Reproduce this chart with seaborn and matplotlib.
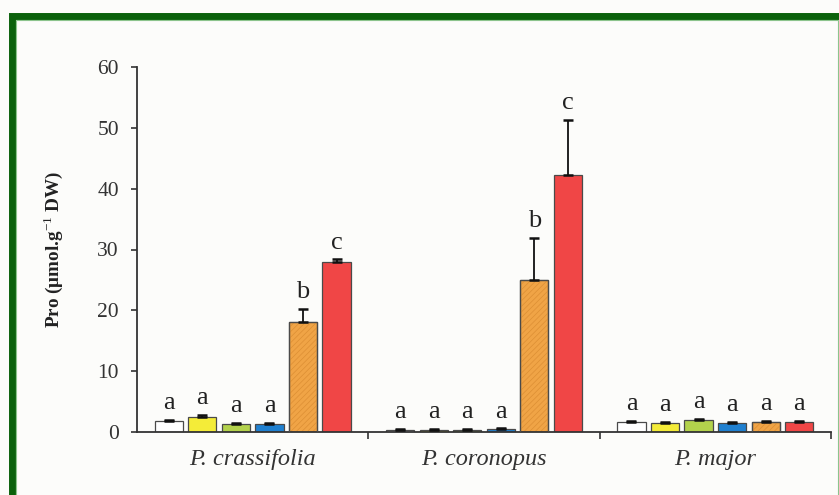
import matplotlib
matplotlib.use("Agg")
import matplotlib.pyplot as plt
from matplotlib.patches import Rectangle
import numpy as np
import pandas as pd
import seaborn as sns

# Proline content per species and treatment (mean and SE)
species = ["P. crassifolia", "P. coronopus", "P. major"]
treatments = ["T1", "T2", "T3", "T4", "T5", "T6"]

pro_crassifolia = [1.8, 2.4, 1.3, 1.3, 18.1, 28.0]
pro_coronopus = [0.4, 0.3, 0.4, 0.5, 25.0, 42.3]
pro_major = [1.6, 1.5, 1.9, 1.5, 1.6, 1.7]

se_crassifolia = [0.2, 0.4, 0.2, 0.2, 2.2, 0.4]
se_coronopus = [0.1, 0.2, 0.1, 0.1, 6.9, 9.0]
se_major = [0.2, 0.2, 0.3, 0.2, 0.2, 0.15]

letters_crassifolia = ["a", "a", "a", "a", "b", "c"]
letters_coronopus = ["a", "a", "a", "a", "b", "c"]
letters_major = ["a", "a", "a", "a", "a", "a"]

y_ticks = [0, 10, 20, 30, 40, 50, 60]

colors = ["#ffffff", "#f4ec38", "#b3d24c", "#1f80d0", "#f0a446", "#f04646"]

df = pd.DataFrame({
    "species": np.repeat(species, len(treatments)),
    "treatment": treatments * len(species),
    "pro": pro_crassifolia + pro_coronopus + pro_major,
    "se": se_crassifolia + se_coronopus + se_major,
    "letter": letters_crassifolia + letters_coronopus + letters_major,
})

sns.set_style("ticks")
plt.rcParams["font.family"] = ["Liberation Serif", "DejaVu Serif"]
plt.rcParams["mathtext.fontset"] = "custom"
plt.rcParams["mathtext.rm"] = "Liberation Serif"
plt.rcParams["mathtext.bf"] = "Liberation Serif:bold"
plt.rcParams["hatch.linewidth"] = 0.5

bg = "#fcfcfa"
edge = "#4a4a4a"
fig = plt.figure(figsize=(8.39, 4.95), dpi=100, facecolor=bg)
ax = fig.add_axes([137 / 839, 1 - 432 / 495, 694 / 839, 365 / 495])
ax.set_facecolor(bg)

sns.barplot(data=df, x="species", y="pro", hue="treatment",
            order=species, hue_order=treatments, palette=colors,
            saturation=1, errorbar=None, width=0.87, gap=0.16, legend=False,
            edgecolor=edge, linewidth=0.9, ax=ax, zorder=2)

bars = sorted([p for c in ax.containers for p in c],
              key=lambda p: p.get_x() + p.get_width() / 2)

xs = np.array([p.get_x() + p.get_width() / 2 for p in bars])
hs = np.array([p.get_height() for p in bars])
ses = df["se"].to_numpy()

# fine diagonal texture on the orange bars, with the outline redrawn on top
for k, p in enumerate(bars):
    if k % len(treatments) == 4:
        ax.add_patch(Rectangle(p.get_xy(), p.get_width(), p.get_height(),
                               fill=False, hatch="//////", edgecolor="#dc8f34",
                               linewidth=0, zorder=2.5))
        ax.add_patch(Rectangle(p.get_xy(), p.get_width(), p.get_height(),
                               fill=False, edgecolor=edge,
                               linewidth=0.9, zorder=2.6))

ax.errorbar(xs, hs, yerr=[np.zeros_like(ses), ses], fmt="none",
            ecolor="#111111", elinewidth=1.3, capsize=3.5, capthick=1.8,
            zorder=3)

for x, h, s, lab in zip(xs, hs, ses, df["letter"]):
    ax.annotate(lab, (x, h + s), xytext=(0, 4), textcoords="offset points",
                ha="center", va="bottom", fontsize=19, color="#222222")

ax.set_ylim(0, 60)
ax.set_xlim(-0.5, 2.5)
ax.set_yticks(y_ticks)
ax.set_yticklabels([str(t) for t in y_ticks], fontsize=15.5, color="#333333")
ax.set_xticklabels(species, fontsize=17.5, style="italic", color="#333333")
ax.set_xlabel("")
ax.set_ylabel(r"Pro ($\mathbf{\mu}$mol.g$^{-1}$ DW)", fontsize=13.8,
              fontweight="bold", color="#222222")
ax.yaxis.set_label_coords(-0.104, 0.5)

ax.tick_params(axis="y", direction="out", length=4, width=1.2, pad=9,
               color="#333333")
ax.tick_params(axis="x", which="major", length=0, pad=12)
ax.set_xticks([0.5, 1.5, 2.5], minor=True)
ax.tick_params(axis="x", which="minor", direction="out", length=5, width=1.2,
               color="#333333")

for side in ["top", "right"]:
    ax.spines[side].set_visible(False)
for side in ["left", "bottom"]:
    ax.spines[side].set_linewidth(1.3)
    ax.spines[side].set_color("#333333")

# green page frame
fig.add_artist(Rectangle((11.5 / 839, -0.2), (841.5 - 11.5) / 839,
                         1 - 16 / 495 + 0.2, transform=fig.transFigure,
                         fill=False, edgecolor="#0b610b", linewidth=5.0))
fig.add_artist(Rectangle((15.5 / 839, -0.2), (837.5 - 15.5) / 839,
                         1 - 19.8 / 495 + 0.2, transform=fig.transFigure,
                         fill=False, edgecolor="#8cc48c", linewidth=0.8))

fig.savefig("out.png", dpi=100, facecolor=bg)
